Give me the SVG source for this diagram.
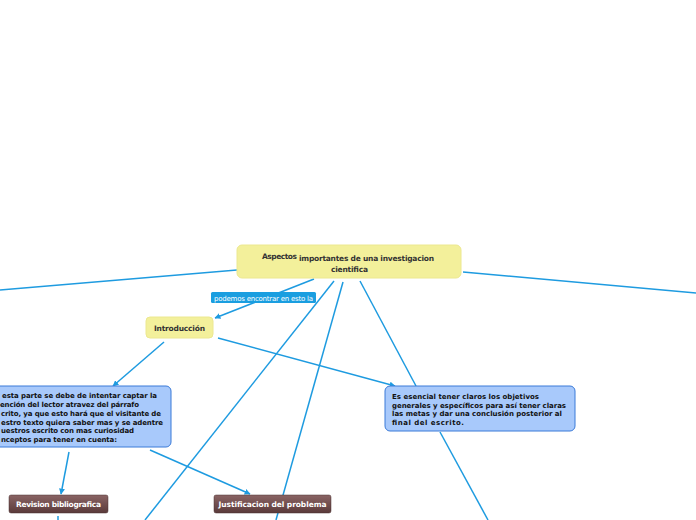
<svg xmlns="http://www.w3.org/2000/svg" width="696" height="520" viewBox="0 0 696 520">
<style>
.c{stroke:#1e9be0;stroke-width:1.5;fill:none}
.y{fill:#f3f09b;stroke:#ece890;stroke-width:1}
.b{fill:#a8c9fb;stroke:#3a7ad8;stroke-width:1}
.br{fill:url(#g);stroke:#4a3030;stroke-width:0.5}
.t{font-family:"DejaVu Sans",Verdana,sans-serif;fill:#333;font-weight:bold}
.bt{font-family:"DejaVu Sans",Verdana,sans-serif;font-weight:bold;font-size:7px;fill:#111}
.wt{font-family:"DejaVu Sans",Verdana,sans-serif;font-weight:bold;font-size:7.5px;fill:#fff}
</style>
<defs>
<linearGradient id="g" x1="0" y1="0" x2="0" y2="1"><stop offset="0" stop-color="#8a6464"/><stop offset="1" stop-color="#5a3a3a"/></linearGradient>
<marker id="a" viewBox="0 0 10 10" refX="9" refY="5" markerWidth="6" markerHeight="6" markerUnits="userSpaceOnUse" orient="auto"><path d="M0,0 L10,5 L0,10 z" fill="#1e9be0"/></marker>
</defs>
<g id="connectors">
<line class="c" x1="237" y1="270" x2="0" y2="290"/>
<line class="c" x1="463" y1="272" x2="696" y2="293"/>
<line class="c" x1="314" y1="279" x2="215" y2="318" marker-end="url(#a)"/>
<line class="c" x1="334" y1="281" x2="145" y2="520"/>
<line class="c" x1="343" y1="282" x2="276" y2="520"/>
<line class="c" x1="360" y1="281" x2="416" y2="386"/>
<line class="c" x1="218" y1="338" x2="395" y2="386" marker-end="url(#a)"/>
<line class="c" x1="164" y1="342" x2="113" y2="386" marker-end="url(#a)"/>
<line class="c" x1="69" y1="452" x2="61" y2="494" marker-end="url(#a)"/>
<line class="c" x1="150" y1="450" x2="250" y2="494" marker-end="url(#a)"/>
<line class="c" x1="440" y1="432" x2="488" y2="520"/>
<line class="c" x1="58" y1="516" x2="58" y2="520"/>
</g>
<g id="main">
<rect class="y" x="237" y="245" width="224" height="33" rx="5"/>
<text class="t" x="262" y="258.5" font-size="7.5" textLength="35">Aspectos</text>
<text class="t" x="299" y="261" font-size="7.5" textLength="135">importantes de una investigacion</text>
<text class="t" x="331" y="271.5" font-size="7.5" textLength="37">cientifica</text>
</g>
<g id="label">
<rect x="211" y="292" width="105" height="11" rx="1.5" fill="#1a9ee0"/>
<text x="214" y="300.5" font-family="DejaVu Sans,Verdana,sans-serif" font-size="7" fill="#fff" textLength="99">podemos encontrar en esto la</text>
</g>
<g id="intro">
<rect class="y" x="146" y="317" width="67" height="21" rx="4"/>
<text class="t" x="154" y="331" font-size="7.5" textLength="51">Introducción</text>
</g>
<g id="left-box">
<rect class="b" x="-10" y="386" width="181" height="61" rx="5"/>
<text class="bt" x="2" y="398" textLength="155">esta parte se debe de intentar captar la</text>
<text class="bt" x="0" y="407" textLength="139">ención del lector atravez del párrafo</text>
<text class="bt" x="1" y="415.5" textLength="160">crito, ya que esto hará que el visitante de</text>
<text class="bt" x="1" y="424.5" textLength="162">estro texto quiera saber mas y se adentre</text>
<text class="bt" x="1" y="433" textLength="133">uestros escrito con mas curiosidad</text>
<text class="bt" x="1" y="442" textLength="116">nceptos para tener en cuenta:</text>
</g>
<g id="right-box">
<rect class="b" x="385" y="386" width="190" height="45" rx="5"/>
<text class="bt" x="392" y="398.5" textLength="147">Es esencial tener claros los objetivos</text>
<text class="bt" x="392" y="407.5" textLength="174">generales y específicos para así tener claras</text>
<text class="bt" x="392" y="416" textLength="170">las metas y dar una conclusión posterior al</text>
<text class="bt" x="392" y="425" textLength="72">final del escrito.</text>
</g>
<g id="revision">
<rect class="br" x="9" y="495" width="99" height="18" rx="2"/>
<text class="wt" x="58.5" y="507" text-anchor="middle" textLength="85">Revision bibliografica</text>
</g>
<g id="justificacion">
<rect class="br" x="214" y="495" width="117" height="18" rx="2"/>
<text class="wt" x="272.5" y="507" text-anchor="middle" textLength="108">Justificacion del problema</text>
</g>
</svg>
